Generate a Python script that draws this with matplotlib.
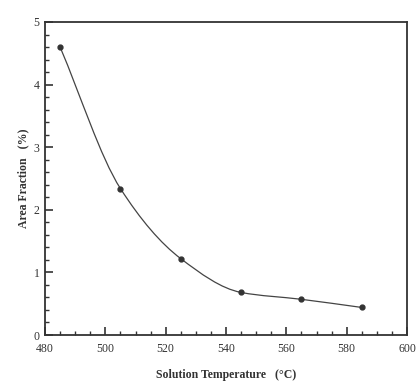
import matplotlib.pyplot as plt
from matplotlib.path import Path
from matplotlib.patches import PathPatch
from matplotlib.ticker import MultipleLocator

# data
temps = [485, 505, 525, 545, 565, 585]
area_frac = [4.60, 2.34, 1.22, 0.68, 0.57, 0.44]

x_ticks = [480, 500, 520, 540, 560, 580, 600]
x_labels = ["480", "500", "520", "540", "560", "580", "600"]
y_ticks = [0, 1, 2, 3, 4, 5]

plt.rcParams['font.family'] = ['Liberation Serif', 'DejaVu Serif']

fig = plt.figure(figsize=(4.19, 3.85), dpi=100)
ax = fig.add_axes([45 / 419, 50 / 385, 362 / 419, 313 / 385])

# smooth monotone curve through the points, drawn as cubic bezier segments
n = len(temps)
slopes = [(area_frac[i + 1] - area_frac[i]) / (temps[i + 1] - temps[i]) for i in range(n - 1)]
tang = [slopes[0]] + [2 / (1 / slopes[i - 1] + 1 / slopes[i]) for i in range(1, n - 1)] + [slopes[-1]]
verts = [(temps[0], area_frac[0])]
codes = [Path.MOVETO]
for i in range(n - 1):
    h = temps[i + 1] - temps[i]
    c1 = (temps[i] + h / 3, area_frac[i] + tang[i] * h / 3)
    c2 = (temps[i + 1] - h / 3, area_frac[i + 1] - tang[i + 1] * h / 3)
    verts += [c1, c2, (temps[i + 1], area_frac[i + 1])]
    codes += [Path.CURVE4] * 3
ax.add_patch(PathPatch(Path(verts, codes), fill=False, lw=0.9, color='#444444'))
ax.plot(temps, area_frac, 'o', ms=3.5, color='#333333')

ax.set_xlim(480, 600)
ax.set_ylim(0, 5)
ax.set_xticks(x_ticks)
ax.set_xticklabels(x_labels)
ax.set_yticks(y_ticks)
ax.xaxis.set_minor_locator(MultipleLocator(5))
ax.yaxis.set_minor_locator(MultipleLocator(0.2))
ax.tick_params(which='both', direction='in', colors='#333333', labelsize=8.5)
ax.tick_params(which='major', length=6, width=1.2)
ax.tick_params(which='minor', length=3, width=1.0)
ax.tick_params(axis='x', pad=6)
ax.tick_params(axis='y', pad=4)
for s in ax.spines.values():
    s.set_linewidth(1.3)
    s.set_color('#333333')

ax.set_xlabel("Solution Temperature   (°C)", fontsize=8.5, fontweight='bold', color='#333333', labelpad=10)
ax.set_ylabel("Area Fraction   (%)", fontsize=8.5, fontweight='bold', color='#333333', labelpad=3)

fig.savefig("out.png", dpi=100)
